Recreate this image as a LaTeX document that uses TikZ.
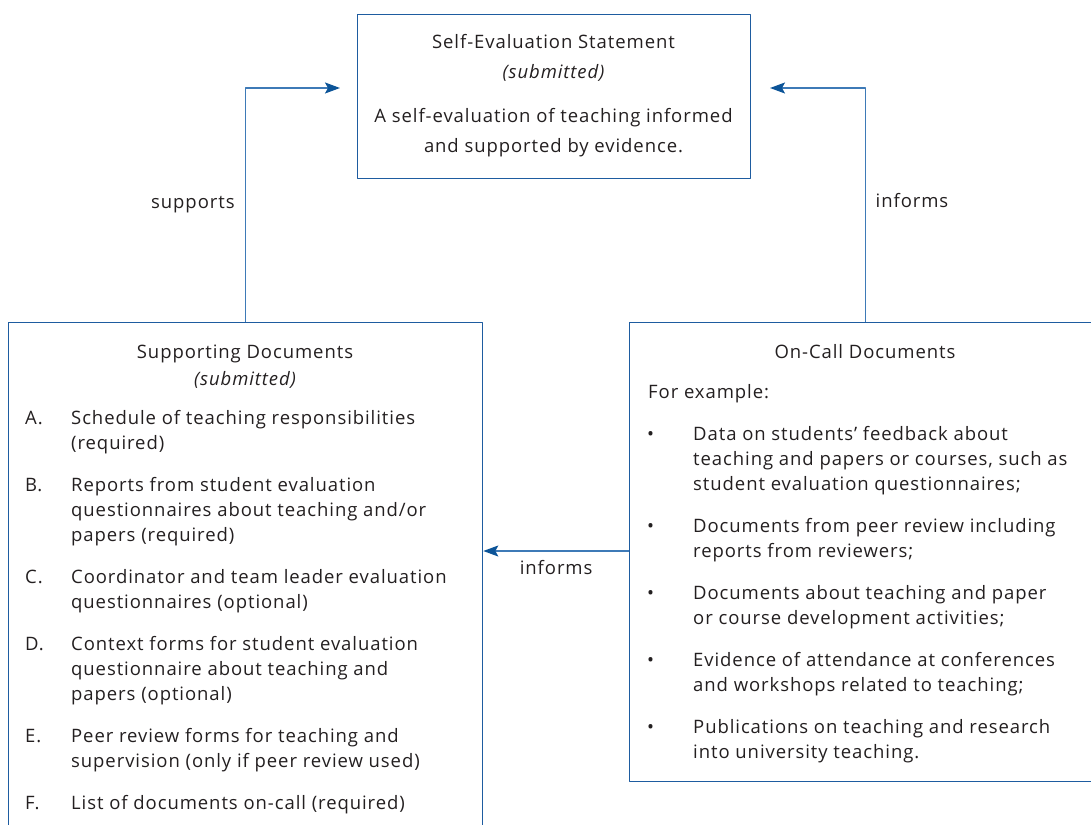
\documentclass[tikz,border=0pt]{standalone}
\usepackage{fontspec}
\setmainfont{Open Sans}[LetterSpace=5]
\usetikzlibrary{arrows.meta,positioning}
\definecolor{boxblue}{RGB}{30,92,160}
\definecolor{linkblue}{RGB}{62,122,183}
\definecolor{tipblue}{RGB}{12,84,152}
\definecolor{inkgrey}{RGB}{35,31,32}
\begin{document}
\begin{tikzpicture}[x=1pt,y=-1pt,line join=round,font=\fontsize{18.5}{22}\selectfont,
    docbox/.style 2 args={draw=boxblue,line width=1.3pt,anchor=north west,inner sep=0pt,minimum width=#1,minimum height=#2},
    txt/.style={anchor=base west,inner sep=0pt,text=inkgrey},
    ctxt/.style={anchor=base,inner sep=0pt,text=inkgrey},
    link/.style={draw=linkblue,line width=1.4pt,-{Stealth[length=15pt,width=11pt,inset=3pt,color=tipblue]}}]
  \path[use as bounding box,clip] (0,0) rectangle (1091,824);
  % the three boxes
  \node[docbox={393}{164}] (self) at (357,14) {};
  \node[docbox={474}{560}] (supp) at (8,322) {};
  \node[docbox={472}{459}] (oncall) at (629,322) {};
  % self-evaluation statement
  \node[ctxt] (selfttl) at (553.5,49) {Self-Evaluation Statement};
  \node[ctxt] (selfsub) at (553.5,79) {\itshape (submitted)};
  \node[ctxt] (selfa) at (553.5,123) {A self-evaluation of teaching informed};
  \node[ctxt] (selfb) at (553.5,152) {and supported by evidence.};
  % supporting documents
  \node[ctxt] (suppttl) at (245,358) {Supporting Documents};
  \node[ctxt] (suppsub) at (245,385) {\itshape (submitted)};
  \foreach \k/\y in {A/424,B/491,C/583,D/650,E/742,F/809}
    \node[txt] (sk\k) at (25,\y) {\k.};
  \foreach \y/\t [count=\i] in {424/{Schedule of teaching responsibilities},449/{(required)},
      491/{Reports from student evaluation},516/{questionnaires about teaching and/or},541/{papers (required)},
      583/{Coordinator and team leader evaluation},608/{questionnaires (optional)},
      650/{Context forms for student evaluation},675/{questionnaire about teaching and},700/{papers (optional)},
      742/{Peer review forms for teaching and},767/{supervision (only if peer review used)},
      809/{List of documents on-call (required)}}
    \node[txt] (sl\i) at (71,\y) {\t};
  % on-call documents
  \node[ctxt] (octtl) at (865,358) {On-Call Documents};
  \node[txt] (ocfor) at (648,398) {For example:};
  \foreach \y [count=\i] in {440,532,599,666,733}
    \node[txt] (ob\i) at (647,\y) {•};
  \foreach \y/\t [count=\i] in {440/{Data on students’ feedback about},465/{teaching and papers or courses, such as},490/{student evaluation questionnaires;},
      532/{Documents from peer review including},557/{reports from reviewers;},
      599/{Documents about teaching and paper},624/{or course development activities;},
      666/{Evidence of attendance at conferences},691/{and workshops related to teaching;},
      733/{Publications on teaching and research},758/{into university teaching.}}
    \node[txt] (ol\i) at (693,\y) {\t};
  % connectors
  \coordinate (selfinl) at (340,88);
  \coordinate (selfinr) at (770,88);
  \coordinate (midy) at (0,551);
  \draw[link] (supp.north) |- (selfinl) node[pos=0.25,left=7pt,text=inkgrey] (lsup) {supports};
  \draw[link] (oncall.north) |- (selfinr) node[pos=0.26,right=6pt,text=inkgrey] (linf) {informs};
  \draw[link] (oncall.west |- midy) -- (supp.east |- midy) node[midway,below=5pt,text=inkgrey] (minf) {informs};
\end{tikzpicture}
\end{document}
